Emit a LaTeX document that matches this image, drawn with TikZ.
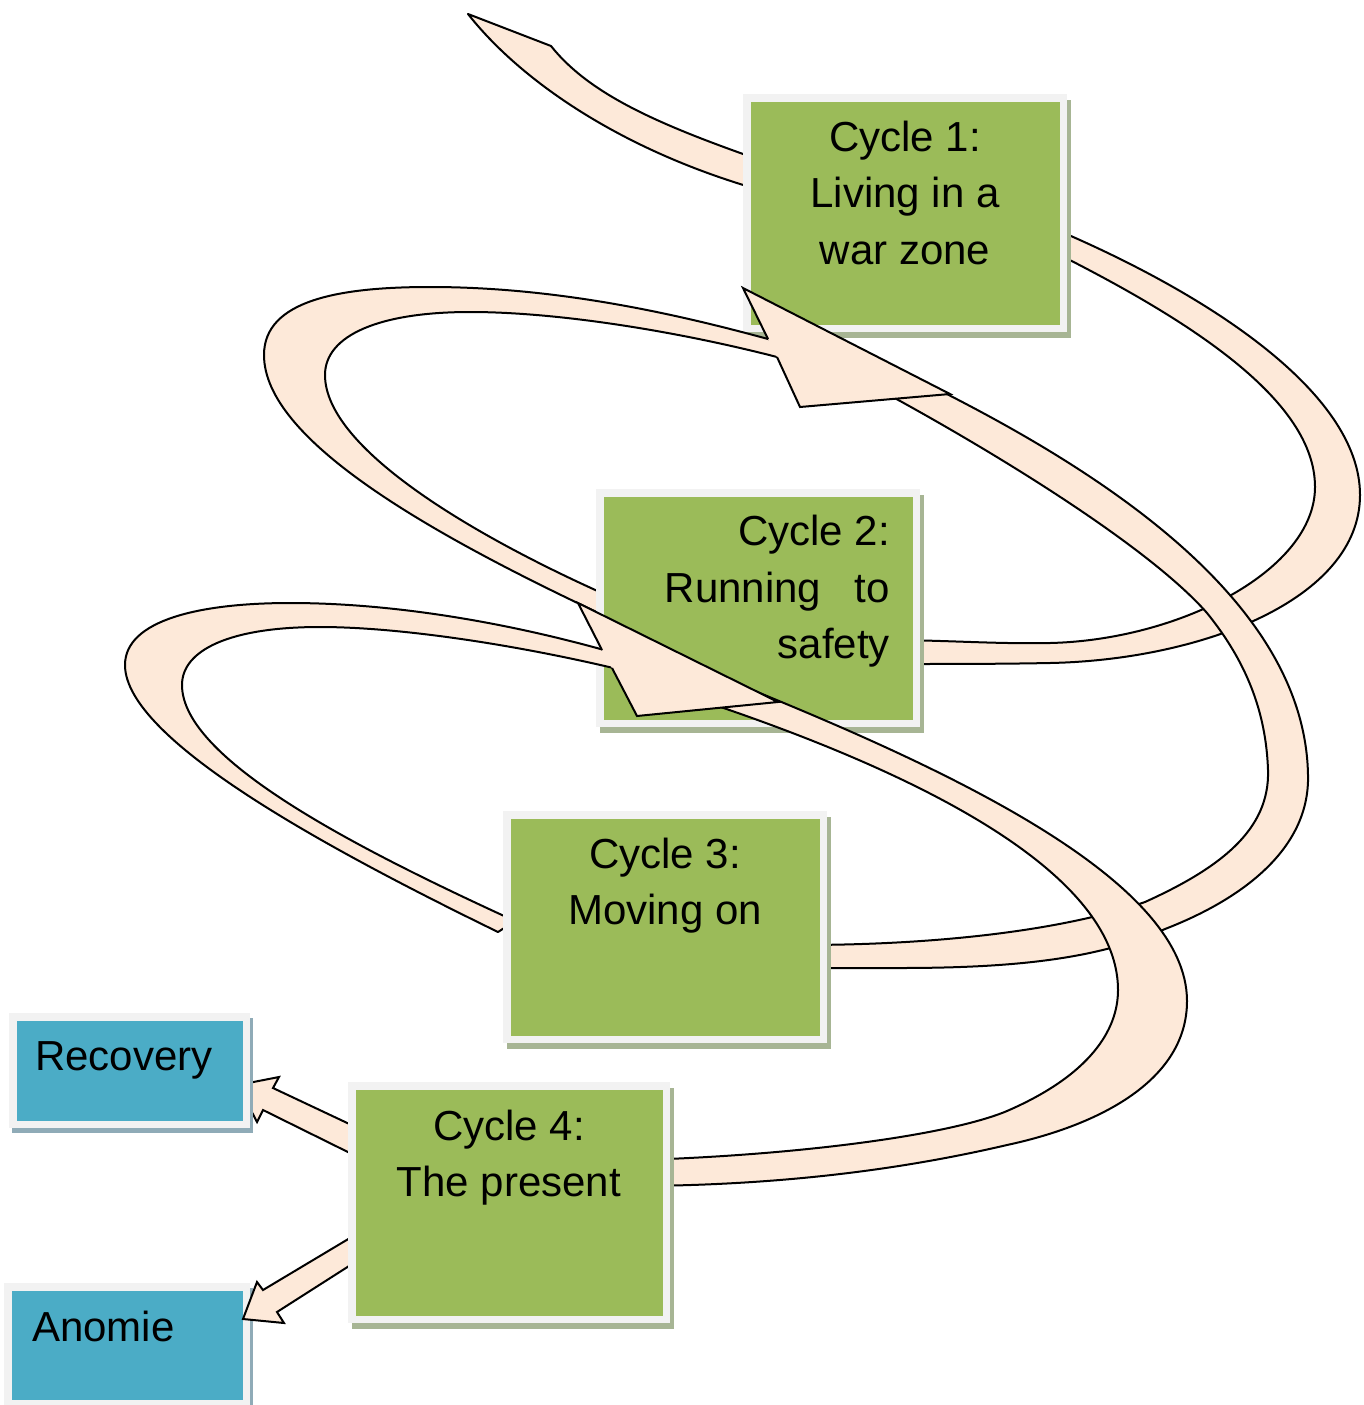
\documentclass[tikz,border=0pt]{standalone}
\usepackage{fontspec}
\setmainfont{Liberation Sans}
\definecolor{peach}{HTML}{FDE9D9}
\definecolor{cgreen}{HTML}{9BBB59}
\definecolor{cblue}{HTML}{4BACC6}
\definecolor{cborder}{HTML}{F2F2F2}
\definecolor{gshadow}{HTML}{A7B594}
\definecolor{bshadow}{HTML}{8FABB7}
\begin{document}
\begin{tikzpicture}[x=1pt,y=-1pt,
  rib/.style={fill=peach, draw=black, line width=2pt, line join=round},
  ahead/.style={draw=black, line width=2pt, line join=miter},
  cycbox/.style={rectangle, inner sep=0pt, fill=cgreen, draw=cborder, line width=7.5pt},
  bluebox/.style={rectangle, inner sep=0pt, fill=cblue, draw=cborder, line width=7.5pt},
  gshad/.style={preaction={fill=gshadow, draw=gshadow, line width=7.5pt, transform canvas={shift={(4pt,-6pt)}}}},
  bshad/.style={preaction={fill=bshadow, draw=bshadow, line width=7.5pt, transform canvas={shift={(3pt,-5pt)}}}},
  lab/.style={font=\fontsize{42}{56.5}\selectfont, inner sep=0pt, anchor=base}
]
\useasboundingbox (0,0) rectangle (1363,1405);

% tail ribbon into cycle 1
\filldraw[rib] (468,14) -- (551,46) .. controls (590,95) and (660,125) .. (760,160)
  -- (760,190) .. controls (620,150) and (520,80) .. (468,14) -- cycle;

% back loop from cycle 1 to cycle 2 (right)
\filldraw[rib] (1050,227) .. controls (1200,290) and (1360,390) .. (1360,495)
  .. controls (1360,600) and (1200,660) .. (1050,663)
  .. controls (1000,664) and (950,664) .. (900,664) -- (900,640)
  .. controls (960,641) and (1000,644) .. (1050,643)
  .. controls (1180,640) and (1315,570) .. (1315,487)
  .. controls (1315,400) and (1190,320) .. (1050,250) -- cycle;

\node[cycbox, gshad, minimum width=316.5pt, minimum height=230.5pt] (c1) at (905,213) {};

% left loop from cycle 2 back up
\filldraw[rib] (620,623) .. controls (430,535) and (264,440) .. (264,355)
  .. controls (264,300) and (340,287) .. (430,287)
  .. controls (560,287) and (680,315) .. (768,339) -- (790,344) -- (795,362) -- (777,357)
  .. controls (680,332) and (560,312) .. (470,312)
  .. controls (380,312) and (325,335) .. (325,375)
  .. controls (325,450) and (480,540) .. (620,601) -- cycle;

\node[cycbox, gshad, minimum width=316.5pt, minimum height=230.5pt] (c2) at (758,608) {};

% left loop from cycle 3 back up
\filldraw[rib] (498,932) .. controls (330,850) and (125,740) .. (125,665)
  .. controls (125,620) and (200,603) .. (290,603)
  .. controls (400,603) and (520,625) .. (625,656) -- (630,672)
  .. controls (520,645) and (400,627) .. (320,627)
  .. controls (230,627) and (182,650) .. (182,685)
  .. controls (182,760) and (360,850) .. (515,921) -- cycle;

% front ribbon from arrowhead 1 down to cycle 3
\filldraw[rib] (925,383) .. controls (1100,470) and (1305,600) .. (1308,775)
  .. controls (1310,850) and (1240,900) .. (1165,929)
  .. controls (1100,958) and (1020,968) .. (900,968) -- (800,968) -- (800,945)
  .. controls (950,945) and (1070,928) .. (1145,902)
  .. controls (1220,868) and (1270,830) .. (1268,770)
  .. controls (1266,710) and (1245,660) .. (1207,613)
  .. controls (1150,548) and (1000,455) .. (880,390) -- cycle;

% arrowhead 1
\fill[peach] (768,339) -- (743,288) -- (950,394) -- (800,407) -- (777,357) -- cycle;
\draw[ahead] (768,339) -- (743,288) -- (950,394) -- (800,407) -- (777,357);

\node[cycbox, gshad, minimum width=316.5pt, minimum height=224.5pt] (c3) at (665,927) {};

% front ribbon from arrowhead 2 down to cycle 4
\filldraw[rib] (740,685) .. controls (950,770) and (1187,880) .. (1187,1001)
  .. controls (1187,1080) and (1100,1125) .. (1007,1145)
  .. controls (900,1170) and (780,1185) .. (640,1186) -- (640,1160)
  .. controls (800,1155) and (950,1135) .. (1007,1111)
  .. controls (1090,1075) and (1118,1030) .. (1118,990)
  .. controls (1118,900) and (1000,800) .. (700,700) -- cycle;

% arrowhead 2
\fill[peach] (602,650) -- (578,603) -- (778,702) -- (637,716) -- (612,668) -- cycle;
\draw[ahead] (602,650) -- (578,603) -- (778,702) -- (637,716) -- (612,668);

% arrow to Recovery
\filldraw[rib, line join=miter] (360,1129) -- (273,1088) -- (279,1077) -- (238,1085) -- (257,1122) -- (263,1110) -- (360,1158) -- cycle;

\node[bluebox, bshad, minimum width=233.5pt, minimum height=107.5pt] (rec) at (129.5,1070.5) {};
\node[bluebox, bshad, minimum width=238.5pt, minimum height=116.5pt] (ano) at (127,1345) {};

% arrow to Anomie
\filldraw[rib, line join=miter] (360,1232) -- (263,1290) -- (257,1282) -- (243,1319) -- (284,1323) -- (277,1312) -- (360,1259) -- cycle;

\node[cycbox, gshad, minimum width=314.5pt, minimum height=233.5pt] (c4) at (509,1202.5) {};

% texts
\node[lab] (t1a) at (905,151) {Cycle 1:};
\node[lab] (t1b) at (905,207.5) {Living in a};
\node[lab] (t1c) at (905,264) {war zone};
\node[lab, anchor=base east] (t2a) at (890,545.5) {Cycle 2:};
\node[lab, anchor=base east] (t2b) at (890,602) {\makebox[225pt]{Running\hfill to}};
\node[lab, anchor=base east] (t2c) at (890,658.5) {safety};
\node[lab] (t3a) at (665,868) {Cycle 3:};
\node[lab] (t3b) at (665,924.5) {Moving on};
\node[lab] (t4a) at (509,1140) {Cycle 4:};
\node[lab] (t4b) at (509,1196.5) {The present};
\node[lab, anchor=base west] (trec) at (35,1070) {Recovery};
\node[lab, anchor=base west] (tano) at (32,1341) {Anomie};
\end{tikzpicture}
\end{document}
